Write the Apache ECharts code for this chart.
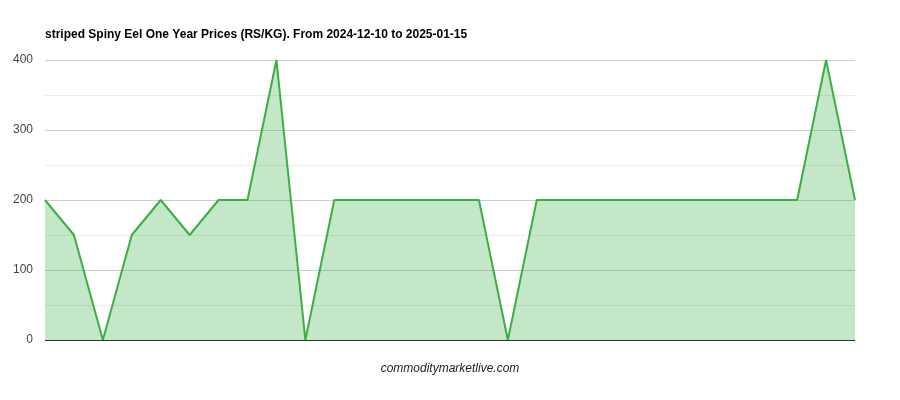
<!DOCTYPE html>
<html>
<head>
<meta charset="utf-8">
<script src="https://cdn.jsdelivr.net/npm/echarts@6/dist/echarts.min.js"></script>
<style>
  html, body { margin: 0; padding: 0; background: #fff; }
  #chart { width: 900px; height: 400px; }
</style>
</head>
<body>
<div id="chart"></div>
<script>
// price points, in order (x labels are not shown in the original)
var pointLabels = ['1', '2', '3', '4', '5', '6', '7', '8', '9', '10',
    '11', '12', '13', '14', '15', '16', '17', '18', '19', '20',
    '21', '22', '23', '24', '25', '26', '27', '28', '29'];
var prices = [200, 150, 0, 150, 200, 150, 200, 200, 400, 0,
    200, 200, 200, 200, 200, 200, 0, 200, 200, 200,
    200, 200, 200, 200, 200, 200, 200, 400, 200];
var yTicks = [0, 100, 200, 300, 400];

var chart = echarts.init(document.getElementById('chart'));

var option = {
    animation: false,
    title: {
        text: 'striped Spiny Eel One Year Prices (RS/KG). From 2024-12-10 to 2025-01-15',
        left: 40,
        top: 24,
        textStyle: { fontFamily: 'Arial, Liberation Sans', fontSize: 12, fontWeight: 'bold', color: '#000' }
    },
    graphic: [{
        type: 'text',
        left: 'center',
        top: 363,
        style: {
            text: 'commoditymarketlive.com',
            font: 'italic 12px Arial, Liberation Sans',
            fill: '#222'
        }
    }],
    grid: { left: 45, right: 45, top: 60, bottom: 60 },
    xAxis: {
        type: 'category',
        data: pointLabels,
        boundaryGap: false,
        axisLine: { show: false },
        axisTick: { show: false },
        axisLabel: { show: false },
        splitLine: { show: false }
    },
    yAxis: {
        type: 'value',
        min: yTicks[0],
        max: yTicks[yTicks.length - 1],
        interval: 100,
        axisLine: { show: false },
        axisTick: { show: false },
        axisLabel: {
            fontFamily: 'Arial, Liberation Sans',
            fontSize: 12,
            color: '#444',
            margin: 12
        },
        splitLine: { lineStyle: { color: '#cccccc', width: 1 } },
        minorTick: { show: false, splitNumber: 2 },
        minorSplitLine: { show: true, lineStyle: { color: '#ebebeb', width: 1 } }
    },
    series: [{
        type: 'line',
        data: prices,
        symbol: 'none',
        lineStyle: { color: '#3cae45', width: 2 },
        itemStyle: { color: '#3cae45' },
        areaStyle: { color: '#3cae45', opacity: 0.3 },
        markLine: {
            silent: true,
            symbol: 'none',
            label: { show: false },
            lineStyle: { color: '#333', width: 1, type: 'solid' },
            data: [{ yAxis: 0 }]
        }
    }]
};

chart.setOption(option);
</script>
</body>
</html>
